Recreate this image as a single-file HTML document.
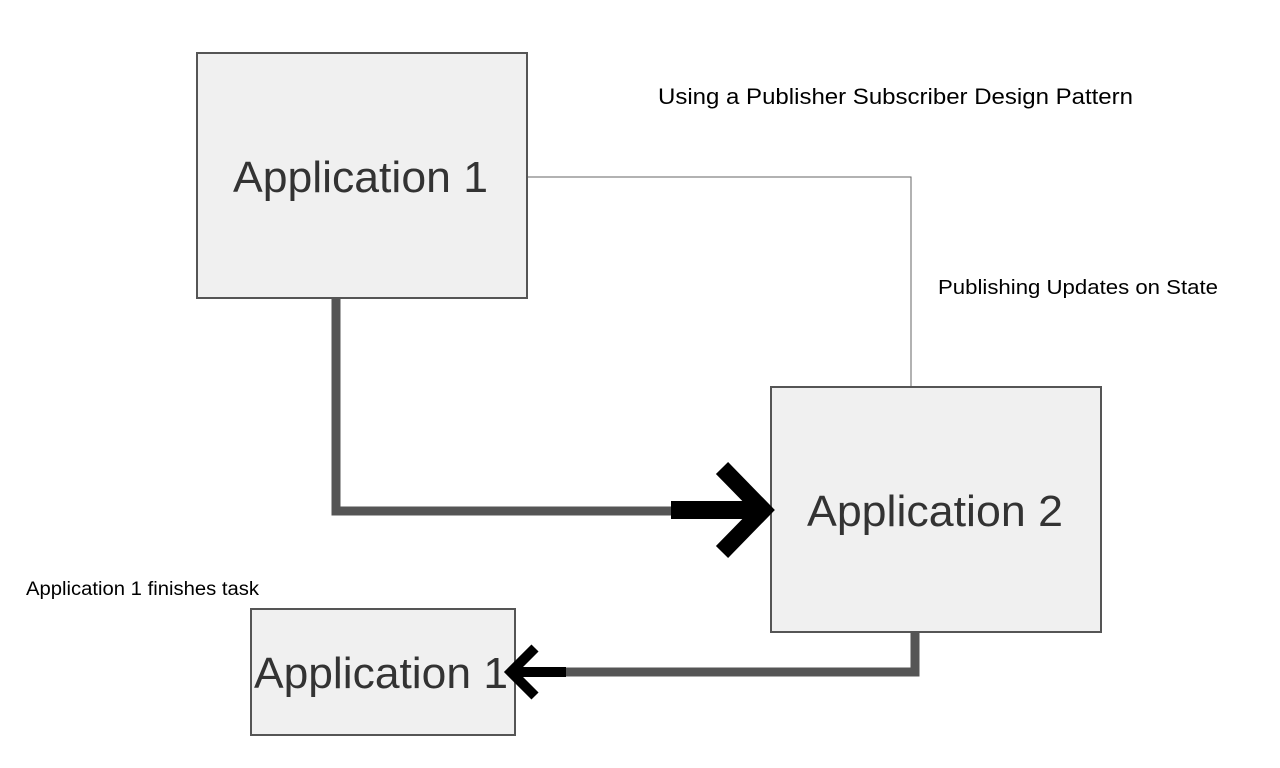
<!DOCTYPE html>
<html><head><style>
html,body{margin:0;padding:0;background:#fff;}
svg{display:block;}
text{font-family:"Liberation Sans",Arial,sans-serif;}
</style></head><body>
<svg width="1280" height="768" viewBox="0 0 1280 768" xmlns="http://www.w3.org/2000/svg">
<rect x="0" y="0" width="1280" height="768" fill="#fff"/>
<polyline points="527,177 911,177 911,387" fill="none" stroke="#666" stroke-width="1"/>
<rect x="197" y="53" width="330" height="245" fill="#f0f0f0" stroke="#555" stroke-width="2"/>
<rect x="771" y="387" width="330" height="245" fill="#f0f0f0" stroke="#555" stroke-width="2"/>
<rect x="251" y="609" width="264" height="126" fill="#f0f0f0" stroke="#555" stroke-width="2"/>
<text x="233" y="192" font-size="44" fill="#333" textLength="255" lengthAdjust="spacingAndGlyphs">Application 1</text>
<text x="807" y="526" font-size="44" fill="#333" textLength="256" lengthAdjust="spacingAndGlyphs">Application 2</text>
<text x="254" y="688" font-size="44" fill="#333" textLength="254" lengthAdjust="spacingAndGlyphs">Application 1</text>
<text x="658" y="104" font-size="22" fill="#000" textLength="475" lengthAdjust="spacingAndGlyphs">Using a Publisher Subscriber Design Pattern</text>
<text x="938" y="294" font-size="20" fill="#000" textLength="280" lengthAdjust="spacingAndGlyphs">Publishing Updates on State</text>
<text x="26" y="595" font-size="19" fill="#000" textLength="233" lengthAdjust="spacingAndGlyphs">Application 1 finishes task</text>
<polyline points="336,299 336,511 672,511" fill="none" stroke="#555" stroke-width="9"/>
<line x1="671" y1="510" x2="755" y2="510" stroke="#000" stroke-width="18"/>
<polyline points="722,468 763,510 722,552" fill="none" stroke="#000" stroke-width="17" stroke-linecap="butt"/>
<polyline points="915,633 915,672 566,672" fill="none" stroke="#555" stroke-width="9"/>
<line x1="566" y1="672" x2="515" y2="672" stroke="#000" stroke-width="10"/>
<polyline points="535,648 511,672 535,696" fill="none" stroke="#000" stroke-width="10"/>
</svg>
</body></html>
